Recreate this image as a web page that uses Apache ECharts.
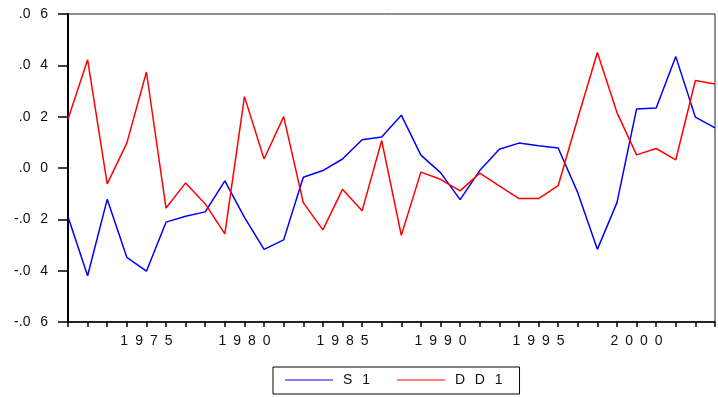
<!DOCTYPE html>
<html>
<head>
<meta charset="utf-8">
<script src="https://cdn.jsdelivr.net/npm/echarts@6/dist/echarts.min.js"></script>
<style>
html,body{margin:0;padding:0;background:#fff;}
#c{width:718px;height:397px;}
</style>
</head>
<body>
<div id="c"></div>
<script>
const years = [1971,1972,1973,1974,1975,1976,1977,1978,1979,1980,1981,1982,1983,1984,1985,1986,1987,1988,1989,1990,1991,1992,1993,1994,1995,1996,1997,1998,1999,2000,2001,2002,2003,2004];
const s1 = [-0.0190,-0.0420,-0.0122,-0.0348,-0.0402,-0.0211,-0.0188,-0.0171,-0.0050,-0.0192,-0.0317,-0.0280,-0.0036,-0.0010,0.0035,0.0110,0.0121,0.0206,0.0050,-0.0018,-0.0123,-0.0010,0.0073,0.0097,0.0087,0.0078,-0.0096,-0.0317,-0.0135,0.0230,0.0234,0.0434,0.0198,0.0156];
const dd1 = [0.0190,0.0422,-0.0062,0.0097,0.0374,-0.0156,-0.0058,-0.0140,-0.0257,0.0278,0.0035,0.0200,-0.0135,-0.0241,-0.0083,-0.0167,0.0107,-0.0262,-0.0016,-0.0044,-0.0089,-0.0020,-0.0070,-0.0119,-0.0119,-0.0069,0.0194,0.0450,0.0216,0.0051,0.0076,0.0032,0.0341,0.0327];
const seriesNames = ['S1','DD1'];

const EN = '\u2002', TH = '\u2009';
function spaced(s){ return s.split('').join(EN); }
function legendSpaced(s){ return s.split('').join(EN + TH); }
function yFmt(v){
  let s = (Math.round(v*100)/100).toFixed(2);
  if (s === '-0.00') s = '0.00';
  s = s.replace(/^(-?)0\./, '$1.');
  let out = '';
  for (let i = 0; i < s.length; i++) {
    out += s[i];
    if (i < s.length - 1 && /\d/.test(s[i]) && /\d/.test(s[i+1])) out += EN + TH;
  }
  return out;
}

const chart = echarts.init(document.getElementById('c'), null, {renderer:'canvas'});
const font = {fontFamily:'Liberation Sans, Arial, sans-serif', fontSize:14, color:'#111'};
chart.setOption({
  animation:false,
  backgroundColor:'#fff',
  grid:{left:68, top:14, bottom:75, width:655.5, show:true, borderColor:'#222', borderWidth:1, containLabel:false},
  xAxis:{
    type:'value', min:1971, max:2004, interval:1,
    axisLine:{show:true, onZero:false, lineStyle:{color:'#000', width:1.5}},
    axisTick:{show:true, inside:false, length:5, lineStyle:{color:'#000', width:1.5}},
    splitLine:{show:false},
    axisLabel:Object.assign({margin:12, formatter:function(v){return (v%5===0)?spaced(String(v)):'';}}, font)
  },
  yAxis:{
    type:'value', min:-0.06, max:0.06, interval:0.02,
    axisLine:{show:true, onZero:false, lineStyle:{color:'#000', width:2}},
    axisTick:{show:true, inside:false, length:10, lineStyle:{color:'#000', width:1.5}},
    splitLine:{show:false},
    axisLabel:Object.assign({margin:20, formatter:yFmt}, font)
  },
  legend:{
    left:273, top:367,
    padding:[6,17,7,12],
    borderColor:'#000', borderWidth:1,
    icon:'rect',
    itemWidth:48, itemHeight:1.2, itemGap:27,
    textStyle:Object.assign({padding:[0,0,0,5], lineHeight:14}, font),
    formatter:function(n){return legendSpaced(n);},
    data:seriesNames
  },
  series:[
    {name:seriesNames[0], type:'line', symbol:'none', showSymbol:false,
     lineStyle:{color:'#0000ff', width:1.5}, itemStyle:{color:'#0000ff'},
     data:years.map((y,i)=>[y,s1[i]])},
    {name:seriesNames[1], type:'line', symbol:'none', showSymbol:false,
     lineStyle:{color:'#ff0000', width:1.5}, itemStyle:{color:'#ff0000'},
     data:years.map((y,i)=>[y,dd1[i]])}
  ]
});
</script>
</body>
</html>
